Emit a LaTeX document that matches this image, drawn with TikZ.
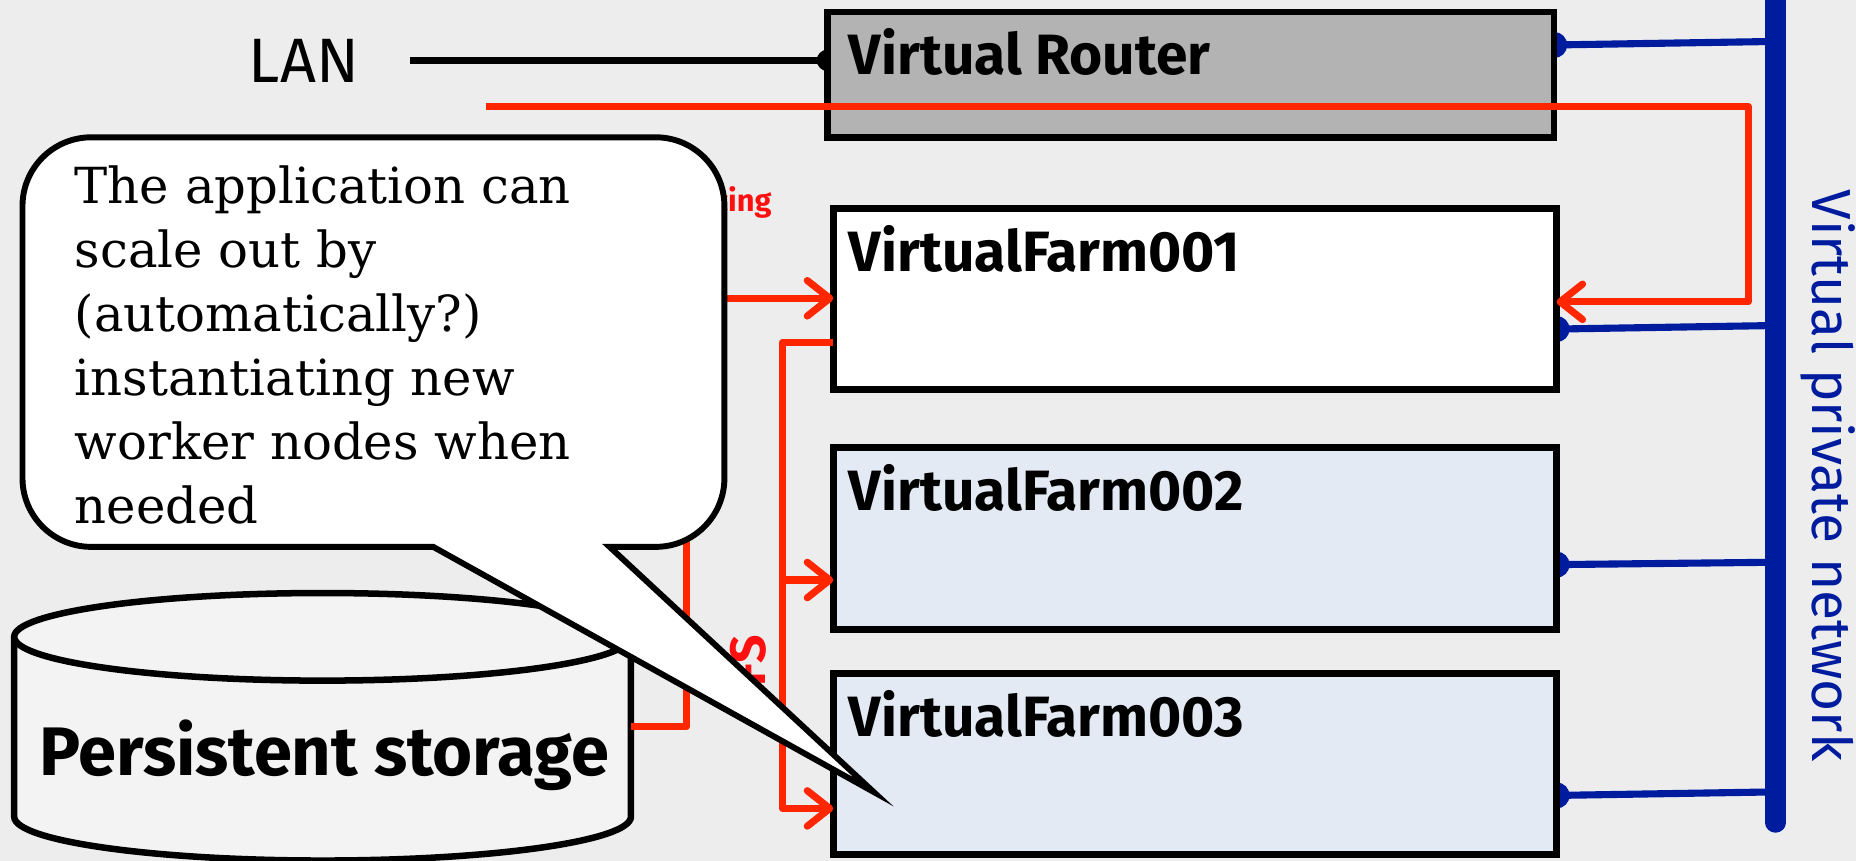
\documentclass[tikz,border=0pt]{standalone}
\usepackage{fontspec}
\newfontfamily\comic{Fira Sans}
\newfontfamily\calloutfont{DejaVu Serif}
\usetikzlibrary{arrows.meta,calc}
\definecolor{bg}{RGB}{237,237,237}
\definecolor{routergray}{RGB}{179,179,179}
\definecolor{farmblue}{RGB}{227,234,243}
\definecolor{storefill}{RGB}{243,243,243}
\definecolor{netred}{RGB}{255,38,0}
\definecolor{labelred}{RGB}{255,16,16}
\definecolor{vpnblue}{RGB}{0,28,158}
\pgfdeclarelayer{bottom}
\pgfdeclarelayer{back}
\pgfsetlayers{bottom,back,main}
\begin{document}
\begin{tikzpicture}[x=1pt,y=-1pt,
  box/.style={draw=black, line width=5.5pt, inner sep=0pt, outer sep=0pt,
    anchor=north west, minimum width=611pt},
  boxlabel/.style={font=\comic\bfseries\fontsize{48}{56}\selectfont,
    anchor=base west, inner sep=0pt},
  redline/.style={draw=netred, line width=6pt, line join=round},
  redarrow/.style={redline, -{Straight Barb[length=19pt,width=30pt,round]}},
  vpnline/.style={draw=vpnblue, line width=6pt},
  redlabel/.style={text=labelred, inner sep=0pt, font=\comic\bfseries},
]
\begin{pgfonlayer}{bottom}
  \fill[bg] (0,0) rectangle (1568,727);
\end{pgfonlayer}
\useasboundingbox (0,0) rectangle (1568,727);

% ---- boxes
\node[box, fill=routergray, minimum width=614pt, minimum height=106pt] (router) at (699,10) {};
\node[boxlabel] (routerlbl) at ($(router.north west)+(18,53)$) {Virtual Router};
\node[box, fill=white, minimum height=153pt] (vf1) at (704,176) {};
\node[boxlabel] (vf1lbl) at ($(vf1.north west)+(13,53)$) {VirtualFarm001};
\node[box, fill=farmblue, minimum height=154pt] (vf2) at (704,378) {};
\node[boxlabel] (vf2lbl) at ($(vf2.north west)+(13,53)$) {VirtualFarm002};
\node[box, fill=farmblue, minimum height=153pt] (vf3) at (704,569) {};
\node[boxlabel] (vf3lbl) at ($(vf3.north west)+(13,53)$) {VirtualFarm003};

% ---- LAN
\node[font=\comic\fontsize{53}{60}\selectfont, anchor=base west, inner sep=0pt] (lan) at (210,70) {LAN};
\coordinate (lanend) at (346,51);

% ---- virtual private network bus
\coordinate (bustop) at (1500,-20);
\coordinate (busbot) at (1500,695);
\coordinate (j0) at (1500,35);
\coordinate (j1) at (1500,275);
\coordinate (j2) at (1500,475);
\coordinate (j3) at (1500,669);
\node[text=vpnblue, font=\comic\fontsize{46.5}{54}\selectfont, rotate=-90,
  anchor=base west, inner sep=0pt] (vpnlbl) at (1531,160) {Virtual private network};

\begin{pgfonlayer}{back}
  \draw[line width=5.5pt] (lanend) -- ($(router.north west)+(0,41)$);
  \fill ($(router.north west)+(0,41)$) circle (9pt);
  \draw[vpnline] ($(router.north east)+(0,28)$) -- (j0);
  \fill[vpnblue] ($(router.north east)+(0,28)$) circle (11pt);
  \draw[vpnline] ($(vf1.north east)+(0,102)$) -- (j1);
  \fill[vpnblue] ($(vf1.north east)+(0,102)$) circle (11pt);
  \draw[vpnline] ($(vf2.north east)+(0,99)$) -- (j2);
  \fill[vpnblue] ($(vf2.north east)+(0,99)$) circle (11pt);
  \draw[vpnline] ($(vf3.north east)+(0,103)$) -- (j3);
  \fill[vpnblue] ($(vf3.north east)+(0,103)$) circle (11pt);
\end{pgfonlayer}
\draw[draw=vpnblue, line width=17pt, line cap=round] (bustop) -- (busbot);

% ---- persistent storage (cylinder)
\filldraw[fill=storefill, line width=5.5pt]
  (12,538) -- (12,690)
  .. controls (12,710.4) and (128.6,727) .. (272.5,727)
  .. controls (416.4,727) and (533,710.4) .. (533,690)
  -- (533,538);
\filldraw[fill=storefill, line width=5.5pt] (272.5,538) ellipse [x radius=260.5, y radius=37];
\node[font=\comic\bfseries\fontsize{58}{64}\selectfont, anchor=base west, inner sep=0pt]
  (store) at (33,655) {Persistent storage};
\coordinate (storeport) at (533,614);

% ---- red traffic lines
\coordinate (redstart) at (411,90);
\coordinate (redcorner) at (1477,90);
\draw[redarrow] (redstart) -- (redcorner) |- ($(vf1.north east)+(0,79)$);
\draw[redarrow] (storeport) -| ($(vf1.north west)+(-124,76)$) -- ($(vf1.north west)+(0,76)$);
\draw[redarrow] ($(vf1.north west)+(0,113)$) -| ($(vf3.north west)+(-43,114)$) -- ($(vf3.north west)+(0,114)$);
\draw[redarrow] ($(vf2.north west)+(-43,112)$) -- ($(vf2.north west)+(0,112)$);
\node[redlabel, font=\comic\bfseries\fontsize{26}{30}\selectfont, anchor=base east] (lblb) at (652,179) {Load balancing};
\node[redlabel, font=\comic\bfseries\fontsize{42}{50}\selectfont, rotate=90, anchor=east] (lnfs) at (632,536) {NFS};

% ---- callout
\filldraw[fill=white, line width=5pt, miter limit=12]
  (366,462) -- (77,462)
  .. controls (45,462) and (19,436) .. (19,404)
  -- (19,174)
  .. controls (19,142) and (45,116) .. (77,116)
  -- (554,116)
  .. controls (586,116) and (612,142) .. (612,174)
  -- (612,404)
  .. controls (612,436) and (586,462) .. (554,462)
  -- (515,462) -- (738,669) -- cycle;
\node[font=\calloutfont\fontsize{42}{54}\selectfont, anchor=base west, inner sep=0pt] (note) at (63,172)
  {\begin{tabular}[t]{@{}l@{}}The application can\\scale out by\\(automatically?)\\instantiating new\\worker nodes when\\needed\end{tabular}};
\end{tikzpicture}
\end{document}
